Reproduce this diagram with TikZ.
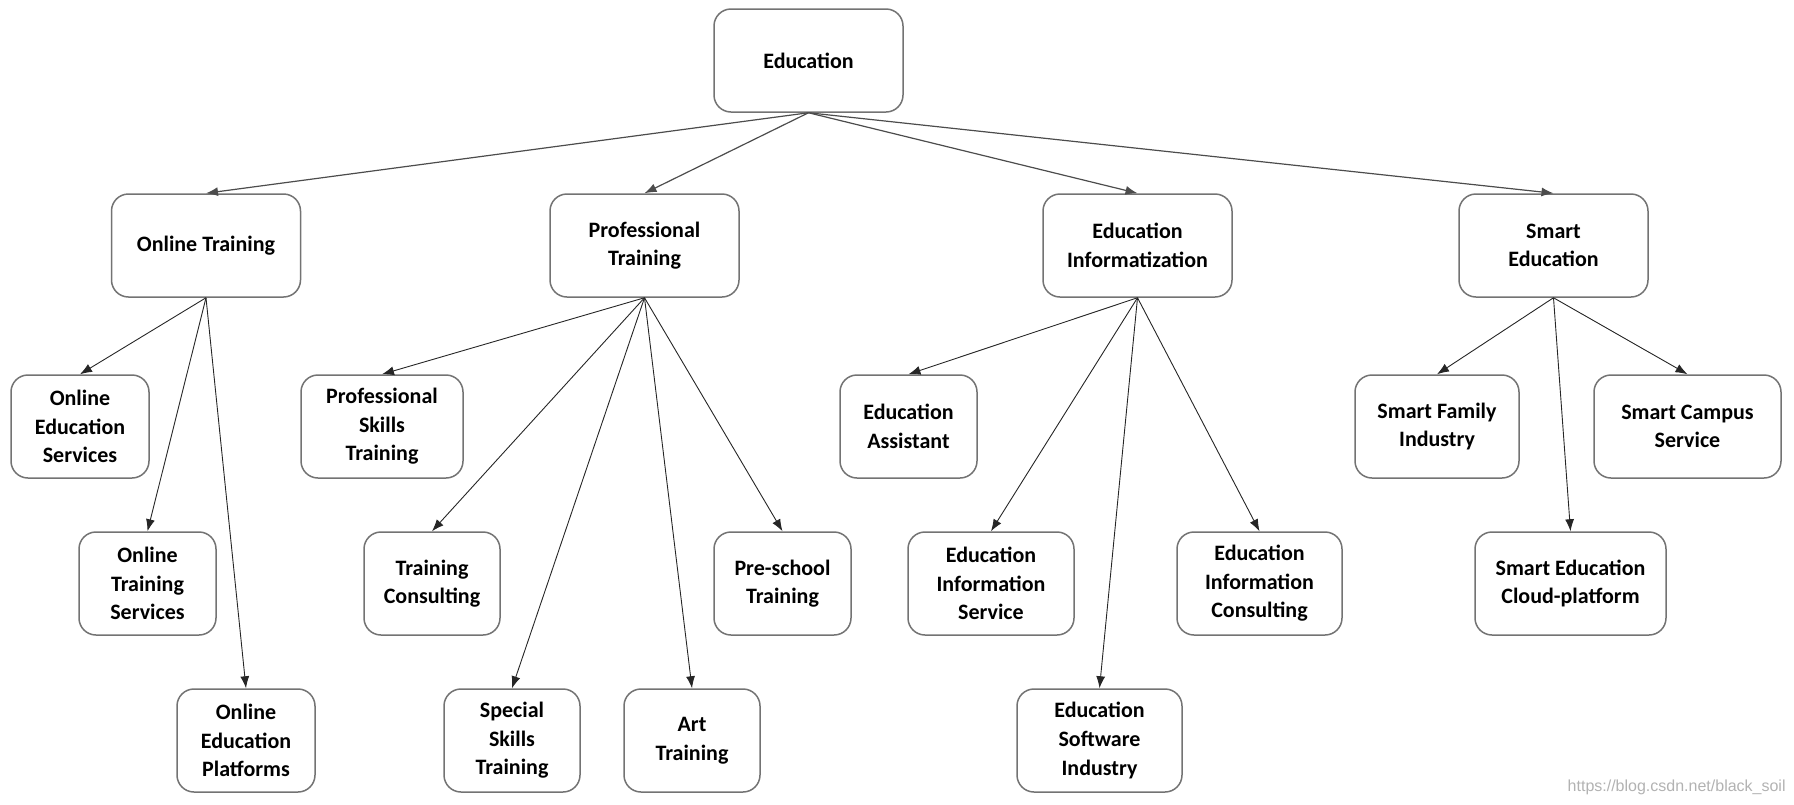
\documentclass[tikz,border=0pt]{standalone}
\usepackage{fontspec}
\setmainfont{Carlito}
\newfontfamily\markfont{Liberation Sans}
\usetikzlibrary{arrows.meta}

\begin{document}
\begin{tikzpicture}[x=0.5pt, y=-0.5pt,
    box/.style={draw=black!55, line width=0.75pt, rounded corners=8.5pt,
        align=center, inner sep=2pt, minimum height=51.5pt,
        font=\bfseries\fontsize{11}{14.3}\selectfont},
    wide/.style={box, minimum width=94.5pt},
    link/.style={-{Latex[length=6pt, width=4.5pt]}, line width=0.45pt, black!85}]
    %% Education tree

    % Frame
    \useasboundingbox (0,0) rectangle (1794,804);

    % Root and first level
    \node[wide] (edu) at (808.5,60.5) {Education};
    \node[wide] (ot) at (206,245.5) {Online Training};
    \node[wide] (pt) at (644.5,245.5) {Professional\\Training};
    \node[wide] (ei) at (1137.5,245.5) {Education\\Informatization};
    \node[wide] (se) at (1553.5,245.5) {Smart\\Education};

    % Second level
    \node[box, minimum width=69pt] (oes) at (80,426.5) {Online\\Education\\Services};
    \node[box, minimum width=81pt] (pst) at (382,426.5) {Professional\\Skills\\Training};
    \node[box, minimum width=68.5pt] (ea) at (908.5,426.5) {Education\\Assistant};
    \node[box, minimum width=82pt] (sfi) at (1437,426.5) {Smart Family\\Industry};
    \node[box, minimum width=93.5pt] (scs) at (1687.5,426.5) {Smart Campus\\Service};

    % Third level
    \node[box, minimum width=68.5pt] (ots) at (147.5,583.5) {Online\\Training\\Services};
    \node[box, minimum width=68pt] (tc) at (432,583.5) {Training\\Consulting};
    \node[box, minimum width=68.5pt] (pre) at (782.5,583.5) {Pre-school\\Training};
    \node[box, minimum width=83pt] (eis) at (991,583.5) {Education\\Information\\Service};
    \node[box, minimum width=82.5pt] (eic) at (1259.5,583.5) {Education\\Information\\Consulting};
    \node[box, minimum width=95.5pt] (secp) at (1570.5,583.5) {Smart Education\\Cloud-platform};

    % Fourth level
    \node[box, minimum width=69pt] (oep) at (246,740.5) {Online\\Education\\Platforms};
    \node[box, minimum width=68pt] (sst) at (512,740.5) {Special\\Skills\\Training};
    \node[box, minimum width=68pt] (art) at (692,740.5) {Art\\Training};
    \node[box, minimum width=82.5pt] (esi) at (1099.5,740.5) {Education\\Software\\Industry};

    % Watermark
    \node[anchor=east, inner sep=0pt, text=black!30, font=\markfont\fontsize{8}{9}\selectfont]
        (mark) at (1786,787) {https://blog.csdn.net/black\_soil};

    % Links from the root
    \draw[link, black!70, line width=0.6pt] (edu.south) -- (ot.north);
    \draw[link, black!70, line width=0.6pt] (edu.south) -- (pt.north);
    \draw[link, black!70, line width=0.6pt] (edu.south) -- (ei.north);
    \draw[link, black!70, line width=0.6pt] (edu.south) -- (se.north);

    % Online training
    \draw[link] (ot.south) -- (oes.north);
    \draw[link] (ot.south) -- (ots.north);
    \draw[link] (ot.south) -- (oep.north);

    % Professional training
    \draw[link] (pt.south) -- (pst.north);
    \draw[link] (pt.south) -- (tc.north);
    \draw[link] (pt.south) -- (sst.north);
    \draw[link] (pt.south) -- (art.north);
    \draw[link] (pt.south) -- (pre.north);

    % Education informatization
    \draw[link] (ei.south) -- (ea.north);
    \draw[link] (ei.south) -- (eis.north);
    \draw[link] (ei.south) -- (esi.north);
    \draw[link] (ei.south) -- (eic.north);

    % Smart education
    \draw[link] (se.south) -- (sfi.north);
    \draw[link] (se.south) -- (secp.north);
    \draw[link] (se.south) -- (scs.north);

\end{tikzpicture}
\end{document}
